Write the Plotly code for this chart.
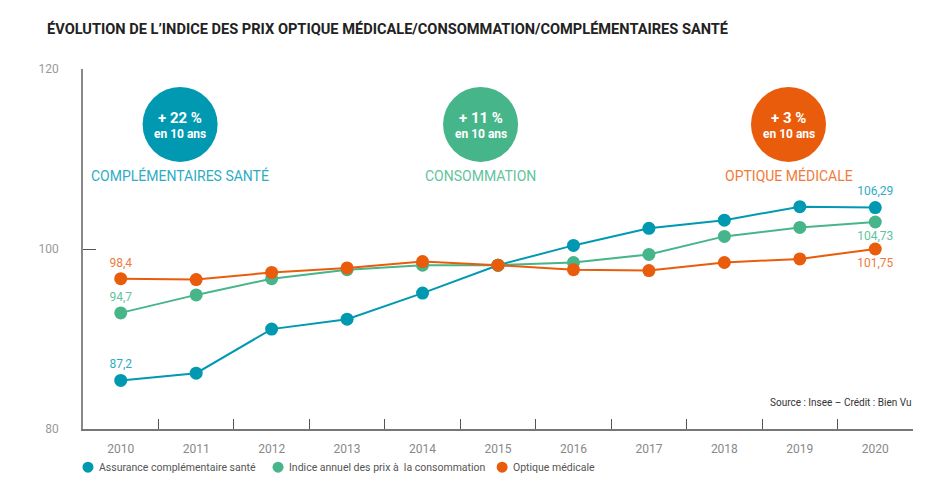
import plotly.graph_objects as go

# Données (indice des prix)
annees = ['2010', '2011', '2012', '2013', '2014', '2015', '2016', '2017', '2018', '2019', '2020']
assurance = [85.4, 86.2, 91.1, 92.2, 95.1, 98.2, 100.4, 102.3, 103.2, 104.7, 104.6]
conso = [92.9, 94.9, 96.7, 97.7, 98.2, 98.2, 98.5, 99.4, 101.4, 102.4, 103.0]
optique = [96.7, 96.6, 97.4, 97.9, 98.6, 98.2, 97.7, 97.6, 98.5, 98.9, 100.0]

# Etiquettes affichées au début et à la fin de chaque courbe
lbl_assurance = ['87,2', '106,29']
lbl_conso = ['94,7', '104,73']
lbl_optique = ['98,4', '101,75']

noms = ['Assurance complémentaire santé', 'Indice annuel des prix à  la consommation', 'Optique médicale']
hausses = ['+ 22 %', '+ 11 %', '+ 3 %']
titres_bulles = ['COMPLÉMENTAIRES SANTÉ', 'CONSOMMATION', 'OPTIQUE MÉDICALE']

BLEU = '#0099b1'
VERT = '#47b58a'
ORANGE = '#e95c0c'
couleurs = [BLEU, VERT, ORANGE]
couleurs_txt = ['#2eacc4', '#62c49c', '#f07a3a']

FONT = 'Roboto, Liberation Sans, sans-serif'


def textes(lbl):
    t = [''] * len(annees)
    t[0], t[-1] = lbl[0], lbl[1]
    return t


series = [
    (assurance, lbl_assurance, 'top center'),
    (conso, lbl_conso, 'bottom center'),
    (optique, lbl_optique, 'bottom center'),
]

fig = go.Figure()
for i, (vals, lbl, pos_fin) in enumerate(series):
    pos = ['top center'] * len(annees)
    pos[-1] = pos_fin
    fig.add_trace(go.Scatter(
        x=annees, y=vals, mode='lines+markers+text', name=noms[i],
        text=textes(lbl), textposition=pos,
        textfont=dict(family=FONT, size=12, color=couleurs_txt[i]),
        line=dict(color=couleurs[i], width=2),
        marker=dict(color=couleurs[i], size=13),
        showlegend=False, cliponaxis=False,
    ))

# Bulles "+ x % en 10 ans"
centres = [0.117, 0.479, 0.850]
for i, cx in enumerate(centres):
    fig.add_shape(type='circle', xref='paper', yref='paper',
                  xsizemode='pixel', ysizemode='pixel',
                  xanchor=cx, yanchor=0.846,
                  x0=-37.5, x1=37.5, y0=-37.5, y1=37.5,
                  fillcolor=couleurs[i], line=dict(width=0))
    fig.add_annotation(x=cx, y=0.846, xref='paper', yref='paper', yshift=6,
                       xanchor='center', yanchor='middle',
                       text='<b>' + hausses[i] + '</b>', showarrow=False,
                       font=dict(family=FONT, size=15, color='white'))
    fig.add_annotation(x=cx, y=0.846, xref='paper', yref='paper', yshift=-10,
                       xanchor='center', yanchor='middle',
                       text='<b>en 10 ans</b>', showarrow=False,
                       font=dict(family=FONT, size=12, color='white'))
    fig.add_annotation(x=cx, y=0.703, xref='paper', yref='paper',
                       xanchor='center', yanchor='middle',
                       text=titres_bulles[i], showarrow=False,
                       font=dict(family=FONT, size=14, color=couleurs_txt[i]))

# Légende dessinée à la main (pastille + texte)
leg_x = [0.006, 0.235, 0.505]
for i, lx in enumerate(leg_x):
    fig.add_shape(type='circle', xref='paper', yref='paper',
                  xsizemode='pixel', ysizemode='pixel',
                  xanchor=lx, yanchor=-0.106,
                  x0=-5.5, x1=5.5, y0=-5.5, y1=5.5,
                  fillcolor=couleurs[i], line=dict(width=0))
    fig.add_annotation(x=lx, y=-0.106, xref='paper', yref='paper', xshift=9,
                       xanchor='left', yanchor='middle', text=noms[i], showarrow=False,
                       font=dict(family=FONT, size=10.5, color='#555555'))

fig.add_annotation(x=1, y=0.053, xref='paper', yref='paper', xanchor='right',
                   text='Source : Insee – Crédit : Bien Vu', showarrow=False,
                   font=dict(family=FONT, size=10, color='#333333'))

fig.update_layout(
    width=942, height=490,
    margin=dict(l=75, r=37, t=61, b=69, autoexpand=False),
    paper_bgcolor='white', plot_bgcolor='white',
    showlegend=False,
    title=dict(text='<b>ÉVOLUTION DE L’INDICE DES PRIX OPTIQUE MÉDICALE/CONSOMMATION/COMPLÉMENTAIRES SANTÉ</b>',
               x=0.0414, xanchor='left', y=0.958, yanchor='middle',
               font=dict(family=FONT, size=14.6, color='#222222')),
    xaxis=dict(type='category', tickson='boundaries', ticks='inside', ticklen=10,
               tickcolor='#555555', showline=True, linecolor='#777777', linewidth=1.5,
               showgrid=False, zeroline=False, range=[-0.5, 10.5],
               tickfont=dict(family=FONT, size=12, color='#888888'),
               ticklabelstandoff=8),
    yaxis=dict(range=[80, 120], tickvals=[80, 100, 120], ticks='inside', ticklen=13,
               tickcolor='#555555', showline=True, linecolor='#888888', linewidth=1.5,
               showgrid=False, zeroline=False,
               tickfont=dict(family=FONT, size=12, color='#999999'),
               ticklabelstandoff=20),
)

fig.write_html('out.html')
